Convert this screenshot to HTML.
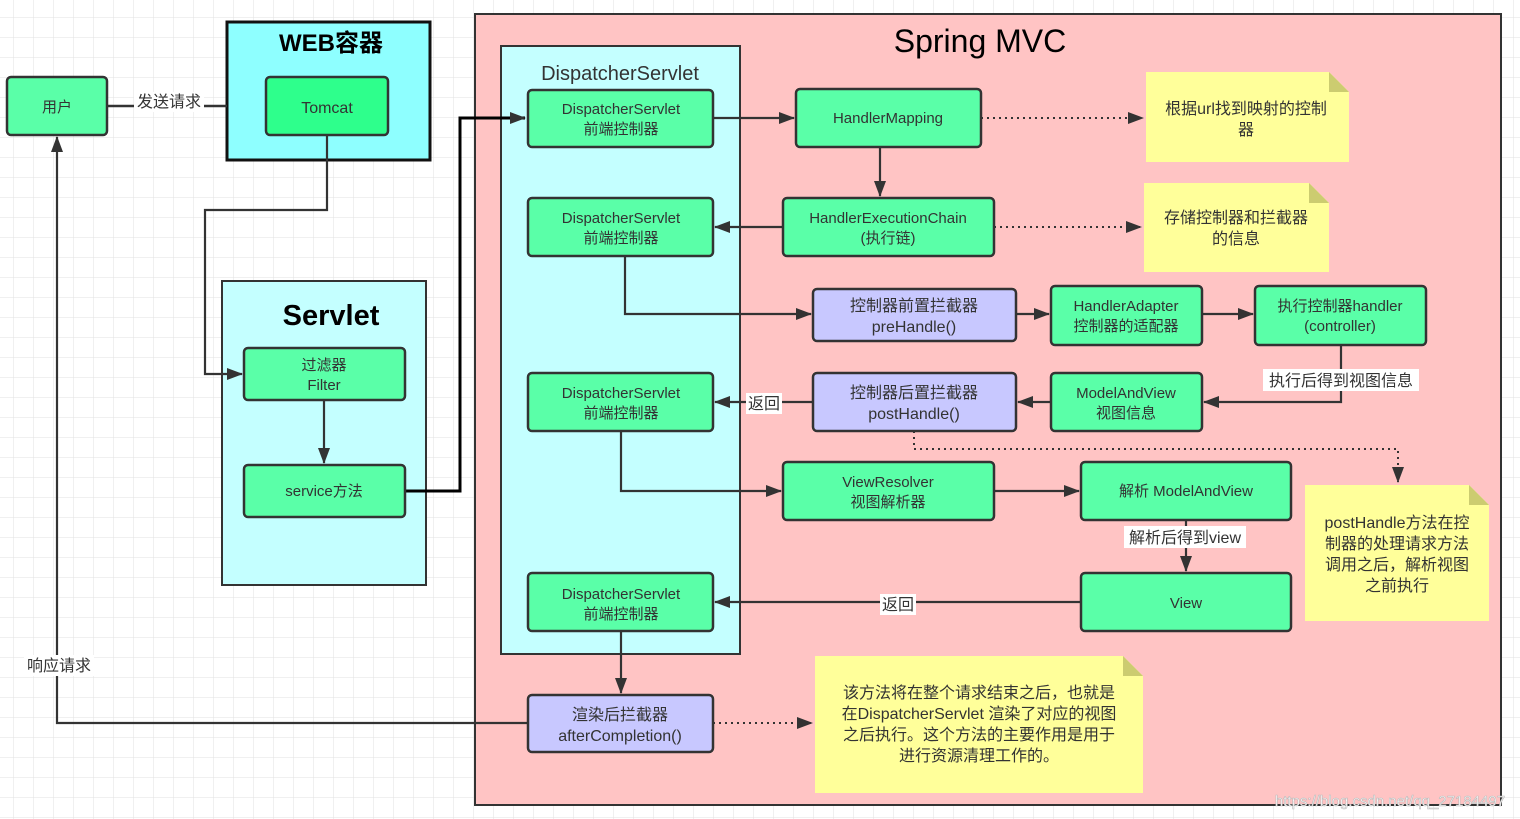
<!DOCTYPE html>
<html><head><meta charset="utf-8"><style>
html,body{margin:0;padding:0;background:#fff}
svg{display:block}
text{font-family:"Liberation Sans","Noto Sans CJK SC",sans-serif;fill:#333}
</style></head><body>
<svg width="1520" height="819" viewBox="0 0 1520 819" xmlns="http://www.w3.org/2000/svg">
<defs>
<pattern id="g" width="20" height="20" patternUnits="userSpaceOnUse" x="-6" y="-2">
<path d="M20 0V20M0 20H20" stroke="#e2e2e2" stroke-width="1" fill="none"/>
</pattern>
<marker id="a" markerWidth="16" markerHeight="12" refX="15" refY="6" orient="auto" markerUnits="userSpaceOnUse" viewBox="0 0 16 12"><path d="M0 0L16 6L0 12z" fill="#333"/></marker>
<marker id="b" markerWidth="16" markerHeight="12" refX="15" refY="6" orient="auto" markerUnits="userSpaceOnUse" viewBox="0 0 16 12"><path d="M0 0L16 6L0 12z" fill="#333"/></marker>
</defs>
<rect width="1520" height="819" fill="url(#g)"/>

<rect x="475" y="14" width="1026" height="791" fill="#ffc4c4" stroke="#333" stroke-width="2"/>
<text x="980" y="52" font-size="32" text-anchor="middle" style="fill:#000">Spring MVC</text>
<rect x="501" y="46" width="239" height="608" fill="#c4ffff" stroke="#333" stroke-width="2"/>
<text x="620" y="80" font-size="20" text-anchor="middle">DispatcherServlet</text>

<rect x="227" y="22" width="203" height="138" fill="#8effff" stroke="#111" stroke-width="3"/>
<text x="331" y="51" font-size="24" font-weight="bold" text-anchor="middle" style="fill:#000">WEB容器</text>
<rect x="266" y="77" width="122" height="58" rx="4" fill="#2eff8c" stroke="#333" stroke-width="2.5"/>
<text x="327" y="113" font-size="16" text-anchor="middle">Tomcat</text>

<rect x="222" y="281" width="204" height="304" fill="#c4ffff" stroke="#333" stroke-width="2"/>
<text x="331" y="325" font-size="29" font-weight="bold" text-anchor="middle" style="fill:#000">Servlet</text>

<rect x="7" y="77" width="100" height="58" rx="4" fill="#5affa8" stroke="#333" stroke-width="2.5"/>
<text x="57" y="112" font-size="15" text-anchor="middle">用户</text>
<path d="M107 106H227" stroke="#333" stroke-width="2.5"/>
<rect x="134" y="92" width="70" height="20" fill="#fff"/>
<text x="169" y="107" font-size="16" text-anchor="middle">发送请求</text>

<g stroke="#333" stroke-width="2.2" fill="none">
<path d="M327 135V210H205V374H242" marker-end="url(#a)"/>
<path d="M324 400V463" marker-end="url(#a)"/>
<path d="M713 118H794" marker-end="url(#a)"/>
<path d="M880 147V196" marker-end="url(#a)"/>
<path d="M783 227H715" marker-end="url(#a)"/>
<path d="M625 256V314H811" marker-end="url(#a)"/>
<path d="M1016 314H1049" marker-end="url(#a)"/>
<path d="M1202 314H1253" marker-end="url(#a)"/>
<path d="M1341 345V402H1204" marker-end="url(#a)"/>
<path d="M1051 402H1018" marker-end="url(#a)"/>
<path d="M813 402H715" marker-end="url(#a)"/>
<path d="M621 431V491H781" marker-end="url(#a)"/>
<path d="M994 491H1079" marker-end="url(#a)"/>
<path d="M1186 520V571" marker-end="url(#a)"/>
<path d="M1081 602H715" marker-end="url(#a)"/>
<path d="M621 631V693" marker-end="url(#a)"/>
<path d="M528 723H57V137" marker-end="url(#b)"/>
</g>
<path d="M405 491H460V118H525" stroke="#000" stroke-width="3" fill="none" marker-end="url(#a)"/>
<g stroke="#333" stroke-width="2" fill="none" stroke-dasharray="2 4">
<path d="M981 118H1143" marker-end="url(#a)"/>
<path d="M994 227H1141" marker-end="url(#a)"/>
<path d="M914 431V449H1398V482" marker-end="url(#a)"/>
<path d="M713 723H812" marker-end="url(#a)"/>
</g>

<g stroke="#333" stroke-width="2.5">
<rect x="244" y="348" width="161" height="52" rx="4" fill="#5affa8"/>
<rect x="244" y="465" width="161" height="52" rx="4" fill="#5affa8"/>
<rect x="528" y="90" width="185" height="57" rx="4" fill="#5affa8"/>
<rect x="528" y="198" width="185" height="58" rx="4" fill="#5affa8"/>
<rect x="528" y="373" width="185" height="58" rx="4" fill="#5affa8"/>
<rect x="528" y="573" width="185" height="58" rx="4" fill="#5affa8"/>
<rect x="528" y="695" width="185" height="57" rx="4" fill="#c8c8ff"/>
<rect x="796" y="89" width="185" height="58" rx="4" fill="#5affa8"/>
<rect x="783" y="198" width="211" height="58" rx="4" fill="#5affa8"/>
<rect x="813" y="289" width="203" height="52" rx="4" fill="#c8c8ff"/>
<rect x="1051" y="286" width="151" height="59" rx="4" fill="#5affa8"/>
<rect x="1255" y="286" width="171" height="59" rx="4" fill="#5affa8"/>
<rect x="1051" y="373" width="151" height="58" rx="4" fill="#5affa8"/>
<rect x="813" y="373" width="203" height="58" rx="4" fill="#c8c8ff"/>
<rect x="783" y="462" width="211" height="58" rx="4" fill="#5affa8"/>
<rect x="1081" y="462" width="210" height="58" rx="4" fill="#5affa8"/>
<rect x="1081" y="573" width="210" height="58" rx="4" fill="#5affa8"/>
</g>

<g>
<path d="M1146 72H1329L1349 92V162H1146z" fill="#ffff9a"/><path d="M1329 72V92H1349z" fill="#cccc70"/>
<path d="M1144 183H1309L1329 203V272H1144z" fill="#ffff9a"/><path d="M1309 183V203H1329z" fill="#cccc70"/>
<path d="M1305 485H1469L1489 505V621H1305z" fill="#ffff9a"/><path d="M1469 485V505H1489z" fill="#cccc70"/>
<path d="M815 656H1123L1143 676V793H815z" fill="#ffff9a"/><path d="M1123 656V676H1143z" fill="#cccc70"/>
</g>

<g font-size="15" text-anchor="middle">
<text x="324" y="370">过滤器</text><text x="324" y="390">Filter</text>
<text x="324" y="496">service方法</text>
<text x="621" y="114">DispatcherServlet</text><text x="621" y="134">前端控制器</text>
<text x="621" y="223">DispatcherServlet</text><text x="621" y="243">前端控制器</text>
<text x="621" y="398">DispatcherServlet</text><text x="621" y="418">前端控制器</text>
<text x="621" y="599">DispatcherServlet</text><text x="621" y="619">前端控制器</text>
<text x="888" y="123">HandlerMapping</text>
<text x="888" y="223">HandlerExecutionChain</text><text x="888" y="243">(执行链)</text>
<text x="1126" y="311">HandlerAdapter</text><text x="1126" y="331">控制器的适配器</text>
<text x="1340" y="311">执行控制器handler</text><text x="1340" y="331">(controller)</text>
<text x="1126" y="398">ModelAndView</text><text x="1126" y="418">视图信息</text>
<text x="888" y="487">ViewResolver</text><text x="888" y="507">视图解析器</text>
<text x="1186" y="496">解析 ModelAndView</text>
<text x="1186" y="608">View</text>
</g>
<g font-size="16" text-anchor="middle">
<text x="914" y="311">控制器前置拦截器</text><text x="914" y="332">preHandle()</text>
<text x="914" y="398">控制器后置拦截器</text><text x="914" y="419">postHandle()</text>
<text x="620" y="720">渲染后拦截器</text><text x="620" y="741">afterCompletion()</text>
<text x="1246" y="114">根据url找到映射的控制</text><text x="1246" y="135">器</text>
<text x="1236" y="223">存储控制器和拦截器</text><text x="1236" y="244">的信息</text>
<text x="1397" y="528">postHandle方法在控</text><text x="1397" y="549">制器的处理请求方法</text><text x="1397" y="570">调用之后，解析视图</text><text x="1397" y="591">之前执行</text>
<text x="979" y="698">该方法将在整个请求结束之后，也就是</text><text x="979" y="719">在DispatcherServlet 渲染了对应的视图</text><text x="979" y="740">之后执行。这个方法的主要作用是用于</text><text x="979" y="761">进行资源清理工作的。</text>
</g>
<g font-size="16" text-anchor="middle">
<rect x="1263" y="369" width="156" height="22" fill="#fff"/><text x="1341" y="386">执行后得到视图信息</text>
<rect x="746" y="393" width="36" height="21" fill="#fff"/><text x="764" y="409">返回</text>
<rect x="880" y="594" width="36" height="21" fill="#fff"/><text x="898" y="610">返回</text>
<rect x="1124" y="526" width="122" height="22" fill="#fff"/><text x="1185" y="543">解析后得到view</text>
<rect x="24" y="655" width="70" height="21" fill="#fff"/><text x="59" y="671">响应请求</text>
</g>
<text x="1390" y="806" font-size="15" text-anchor="middle" style="fill:#fff;stroke:#bbb;stroke-width:0.6">https://blog.csdn.net/qq_27184497</text>
</svg>
</body></html>
